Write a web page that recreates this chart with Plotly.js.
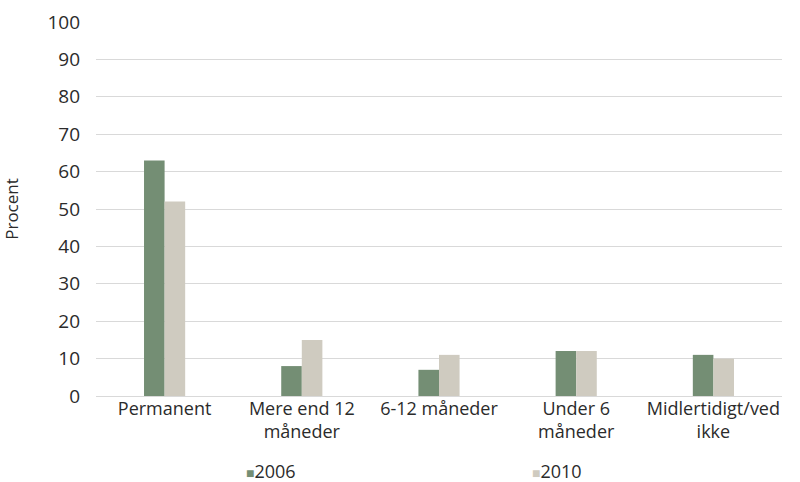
<!DOCTYPE html>
<html>
<head>
<meta charset="utf-8">
<script src="https://cdn.plot.ly/plotly-3.0.1.min.js"></script>
<style>html,body{margin:0;padding:0;background:#fff;}#chart{width:800px;height:482px;}</style>
</head>
<body>
<div id="chart"></div>
<script>
var categories = ["Permanent", "Mere end 12<br>måneder", "6-12 måneder", "Under 6<br>måneder", "Midlertidigt/ved<br>ikke"];
var values2006 = [63, 8, 7, 12, 11];
var values2010 = [52, 15, 11, 12, 10];
var seriesNames = ["2006", "2010"];
var yTicks = [0, 10, 20, 30, 40, 50, 60, 70, 80, 90, 100];

var colors = ["#748e74", "#cfcbc0"];
var font = "'Open Sans', Roboto, sans-serif";
var textColor = "#2b2b2b";

var traces = [
  {type: "bar", x: categories, y: values2006, name: seriesNames[0], marker: {color: colors[0]}, showlegend: false, hoverinfo: "y"},
  {type: "bar", x: categories, y: values2010, name: seriesNames[1], marker: {color: colors[1]}, showlegend: false, hoverinfo: "y"}
];

var layout = {
  width: 800, height: 482,
  margin: {l: 96, r: 18, t: 22, b: 86},
  paper_bgcolor: "#fff", plot_bgcolor: "#fff",
  font: {family: font, size: 18, color: textColor},
  barmode: "group",
  bargap: 0.7,
  bargroupgap: 0,
  xaxis: {
    type: "category",
    showgrid: false, zeroline: false, showline: false,
    ticks: "", tickfont: {size: 18, color: textColor},
    automargin: false
  },
  yaxis: {
    range: [0, 100], tickvals: yTicks, ticktext: yTicks.map(String),
    showgrid: true, gridcolor: "#d9d9d9", gridwidth: 1,
    zeroline: true, zerolinecolor: "#d9d9d9", zerolinewidth: 1,
    showline: false, ticks: "", ticklen: 0,
    ticklabelstandoff: 15,
    tickfont: {size: 19, color: textColor},
    title: {text: "Procent", font: {size: 17, color: textColor}, standoff: 26},
    automargin: false
  },
  annotations: [
    {xref: "paper", yref: "paper", x: (244 - 96) / 686, y: -0.2, xanchor: "left", yanchor: "middle", showarrow: false,
     text: '<span style="color:' + colors[0] + ';font-size:14px">■</span>' + seriesNames[0], font: {size: 18, color: textColor}},
    {xref: "paper", yref: "paper", x: (530 - 96) / 686, y: -0.2, xanchor: "left", yanchor: "middle", showarrow: false,
     text: '<span style="color:' + colors[1] + ';font-size:14px">■</span>' + seriesNames[1], font: {size: 18, color: textColor}}
  ]
};

Plotly.newPlot("chart", traces, layout, {displayModeBar: false, staticPlot: true});
</script>
</body>
</html>
